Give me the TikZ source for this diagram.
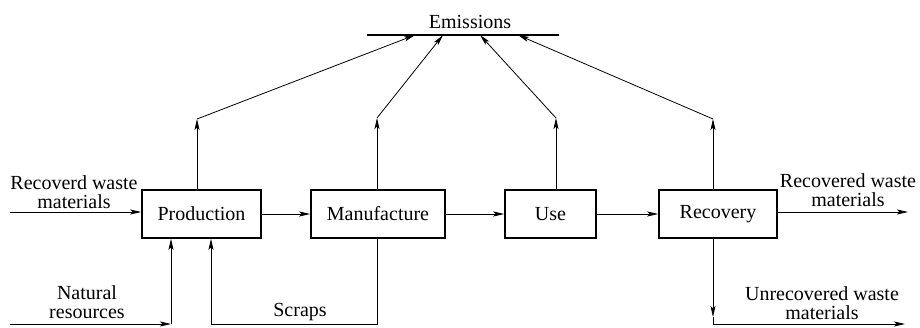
\documentclass[tikz,border=0pt]{standalone}
\usepackage{fontspec}
\setmainfont{Liberation Serif}
\newfontfamily\tms{Liberation Serif}
\usetikzlibrary{arrows.meta}
\begin{document}
\begin{tikzpicture}[x=1pt,y=-1pt,
  box/.style={draw,line width=1.6pt,minimum height=48pt,inner sep=0pt},
  lbl/.style={align=center,inner sep=0pt,font=\tms\fontsize{20}{18.5}\selectfont},
  conn/.style={line width=0.8pt},
  arr/.style={conn,-{Stealth[length=11pt,width=5pt,inset=2.5pt]}},
  every node/.style={font=\tms\fontsize{20}{18.5}\selectfont}]
\useasboundingbox (0,0) rectangle (920,327);
% boxes
\node[box,minimum width=119pt] (prod) at (201.5,214) {Production};
\node[box,minimum width=134pt] (manu) at (378,214) {Manufacture};
\node[box,minimum width=91pt] (use) at (550.5,214) {Use};
\node[box,minimum width=118pt] (reco) at (718,214) {Recovery};
% emissions line
\coordinate (eL) at (367,35);
\coordinate (eR) at (559,35);
\draw[line width=1.6pt] (eL) -- (eR);
\node[lbl] (emis) at (470,22) {Emissions};
\coordinate (e1) at (415,35);
\coordinate (e2) at (443,35);
\coordinate (e3) at (480,35);
\coordinate (e4) at (518,35);
% risers
\coordinate (r1) at (197,119);
\coordinate (r2) at (377,118);
\coordinate (r3) at (556,118);
\coordinate (r4) at (713,119);
\draw[arr] (prod.north -| r1) -- (r1);
\draw[arr] (manu.north -| r2) -- (r2);
\draw[arr] (use.north -| r3) -- (r3);
\draw[arr] (reco.north -| r4) -- (r4);
\draw[arr] (r1) -- (e1);
\draw[arr] (r2) -- (e2);
\draw[arr] (r3) -- (e3);
\draw[arr] (r4) -- (e4);
% main chain
\draw[arr] (prod) -- (manu);
\draw[arr] (manu) -- (use);
\draw[arr] (use) -- (reco);
% inputs
\coordinate (inA) at (10,212);
\draw[arr] (inA) -- (inA -| prod.west);
\node[lbl] (recin) at (74,192) {Recoverd waste\\materials};
\coordinate (natS) at (10,324);
\coordinate (natC) at (171,324);
\draw[arr] (natS) -- (natC);
\draw[arr] (natC) -- (natC |- prod.south);
\node[lbl] (natl) at (87,302) {Natural\\resources};
% scraps
\coordinate (scA) at (377,324);
\coordinate (scB) at (211,324);
\draw[arr] (manu.south -| scA) -- (scA) -- (scB) -- (scB |- prod.south);
\node[lbl] (scl) at (300,312) {Scraps};
% outputs
\coordinate (outA) at (908,212);
\draw[arr] (reco.east |- outA) -- (outA);
\node[lbl] (recout) at (848,190) {Recovered waste\\materials};
\coordinate (dnM) at (713,317);
\coordinate (dnC) at (713,324);
\coordinate (dnE) at (905,324);
\draw[arr] (reco.south -| dnC) -- (dnM);
\draw[arr] (dnM) -- (dnC) -- (dnE);
\node[lbl] (unrec) at (822,303) {Unrecovered waste\\materials};
\end{tikzpicture}
\end{document}
